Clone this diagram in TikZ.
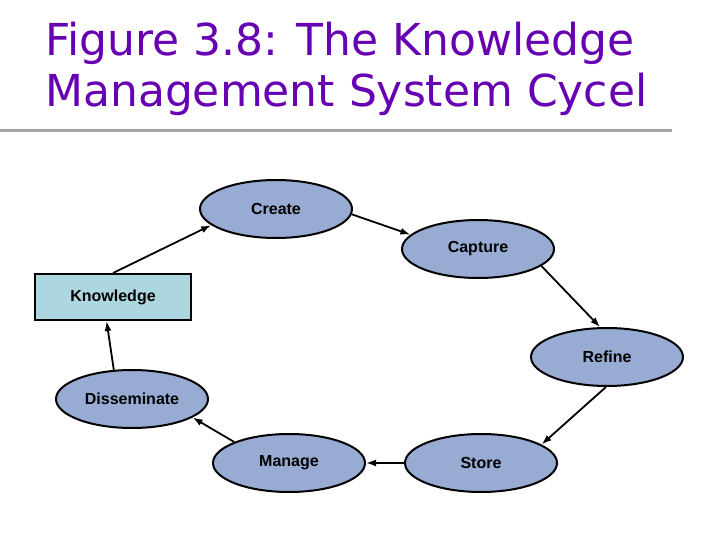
\documentclass[tikz,border=0pt]{standalone}
\usepackage{fontspec}
\setmainfont{Liberation Sans}
\newfontfamily\titlefont{DejaVu Sans}
\usetikzlibrary{shapes.geometric,arrows.meta}

\definecolor{titlepurple}{RGB}{102,0,178}
\definecolor{stepblue}{RGB}{151,171,211}
\definecolor{boxblue}{RGB}{172,214,224}
\definecolor{rulegray}{RGB}{165,165,165}

\tikzset{
  phase/.style = {ellipse, draw, line width=2pt, fill=stepblue, minimum width=152pt, minimum height=58pt, inner sep=0pt, font=\fontsize{16}{19}\selectfont\bfseries},
  kbox/.style = {rectangle, draw, line width=2pt, fill=boxblue, minimum width=156pt, minimum height=46pt, inner sep=0pt, font=\fontsize{16}{19}\selectfont\bfseries},
  flow/.style = {line width=1.8pt, -{Latex[length=10pt,width=7pt]}},
  heading/.style = {anchor=base west, inner sep=0pt, text=titlepurple, font=\titlefont\fontsize{44}{50}\selectfont}
}

\begin{document}
\begin{tikzpicture}[x=1pt, y=-1pt]
\useasboundingbox (0,0) rectangle (720,540);

% title
\node[heading] (title1) at (45, 56) {Figure 3.8: The Knowledge};
\node[heading] (title2) at (45, 107) {Management System Cycel};
\fill[rulegray] (0, 129.5) rectangle (672, 132.5);

% cycle
\node[phase] (create) at (276, 209) {Create};
\node[phase] (capture) at (478, 249) {Capture};
\node[phase] (refine) at (607, 357) {Refine};
\node[phase] (store) at (481, 463) {Store};
\node[phase] (manage) at (289, 463) {Manage};
\node[phase] (disseminate) at (132, 399) {Disseminate};
\node[kbox] (knowledge) at (113, 297) {Knowledge};

\draw[flow] (knowledge.north) -- (create.194);
\draw[flow] (create.356) -- (capture.168);
\draw[flow] (capture.345) -- (refine.103);
\draw[flow] (refine.268) -- (store.17);
\draw[flow] (store.west) -- (manage.east);
\draw[flow] (manage.159) -- (disseminate.343);
\draw[flow] (disseminate.122) -- (knowledge.255);
\end{tikzpicture}
\end{document}
